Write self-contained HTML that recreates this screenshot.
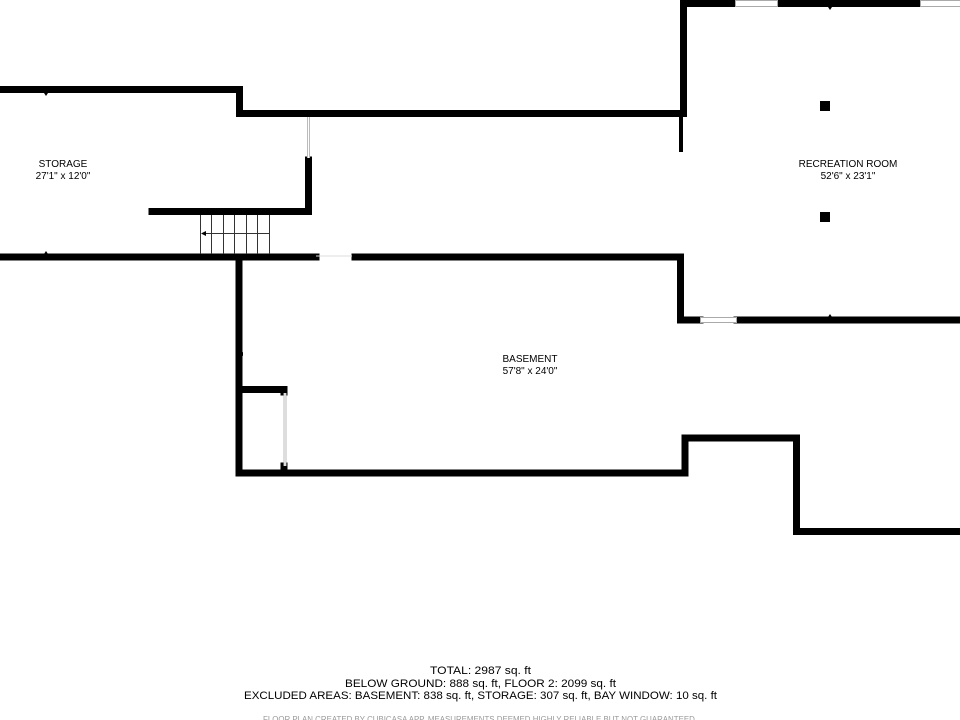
<!DOCTYPE html>
<html><head><meta charset="utf-8"><style>
html,body{margin:0;padding:0;background:#fff;}
svg{display:block;}
text{font-family:"Liberation Sans",sans-serif;}
</style></head><body>
<svg width="960" height="720" viewBox="0 0 960 720" xmlns="http://www.w3.org/2000/svg">
<g stroke="#000" stroke-width="7" fill="none" stroke-linecap="square" stroke-linejoin="miter">
  <polyline points="0,89.5 239.5,89.5 239.5,113.5 683.5,113.5 683.5,3.5 735,3.5"/>
  <line x1="778" y1="3.5" x2="920" y2="3.5"/>
  <polyline points="152,211.5 308.5,211.5 308.5,160"/>
  <line x1="0" y1="257" x2="316" y2="257"/>
  <polyline points="355,257 680.5,257 680.5,320 700,320"/>
  <line x1="737" y1="320" x2="960" y2="320"/>
  <polyline points="239,260 239,473 685,473 685,438 796.5,438 796.5,531.5 960,531.5"/>
  <polyline points="242,389.5 284,389.5 284,392"/>
  <line x1="284" y1="466" x2="284" y2="470"/>
</g>
<line x1="681" y1="113" x2="681" y2="152" stroke="#000" stroke-width="4"/>
<line x1="308.5" y1="117" x2="308.5" y2="158" stroke="#bbb" stroke-width="3"/>
<line x1="308.5" y1="117" x2="308.5" y2="158" stroke="#fff" stroke-width="1"/>
<line x1="285" y1="393" x2="285" y2="466" stroke="#bbb" stroke-width="3"/>
<line x1="285" y1="393" x2="285" y2="466" stroke="#fff" stroke-width="1"/>
<g stroke="#aaa" stroke-width="1" fill="#fff">
  <rect x="735.5" y="0.5" width="42" height="6"/>
  <rect x="920.5" y="0.5" width="40" height="6"/>
  <rect x="700.5" y="317.5" width="36" height="5"/>
</g>
<line x1="316" y1="256" x2="352" y2="256" stroke="#ddd" stroke-width="1"/>
<g stroke="#333" stroke-width="1">
  <line x1="200.5" y1="215" x2="200.5" y2="254"/>
  <line x1="211.5" y1="215" x2="211.5" y2="254"/>
  <line x1="223.5" y1="215" x2="223.5" y2="254"/>
  <line x1="234.5" y1="215" x2="234.5" y2="254"/>
  <line x1="246.5" y1="215" x2="246.5" y2="254"/>
  <line x1="257.5" y1="215" x2="257.5" y2="254"/>
  <line x1="269.5" y1="215" x2="269.5" y2="254"/>
  <line x1="204" y1="233.5" x2="269" y2="233.5"/>
</g>
<polygon points="201,233.5 206,231 206,236" fill="#000"/>
<rect x="820" y="101" width="10" height="10" fill="#000"/>
<rect x="820" y="212" width="10" height="10" fill="#000"/>
<g fill="#000">
  <polygon points="44,93 48,93 46,96"/>
  <polygon points="44,254 48,254 46,251"/>
  <polygon points="828,7 832,7 830,10"/>
  <polygon points="828,317 832,317 830,314"/>
  <polygon points="243,352 243,356 240,354"/>
  <polygon points="305,160 305,164 308,162"/>
</g>
<g font-size="10" fill="#000" text-anchor="middle">
  <text x="63" y="167">STORAGE</text>
  <text x="63" y="179">27'1" x 12'0"</text>
  <text x="848" y="167">RECREATION ROOM</text>
  <text x="848" y="179">52'6" x 23'1"</text>
  <text x="530" y="362">BASEMENT</text>
  <text x="530" y="374">57'8" x 24'0"</text>
</g>
<g font-size="11" fill="#000">
  <text x="430" y="674" textLength="101" lengthAdjust="spacingAndGlyphs">TOTAL: 2987 sq. ft</text>
  <text x="345" y="687" textLength="271" lengthAdjust="spacingAndGlyphs">BELOW GROUND: 888 sq. ft, FLOOR 2: 2099 sq. ft</text>
  <text x="244" y="699" textLength="473" lengthAdjust="spacingAndGlyphs">EXCLUDED AREAS: BASEMENT: 838 sq. ft, STORAGE: 307 sq. ft, BAY WINDOW: 10 sq. ft</text>
</g>
<text x="263" y="722" font-size="8" fill="#999" textLength="434" lengthAdjust="spacingAndGlyphs">FLOOR PLAN CREATED BY CUBICASA APP. MEASUREMENTS DEEMED HIGHLY RELIABLE BUT NOT GUARANTEED.</text>
</svg>
</body></html>
